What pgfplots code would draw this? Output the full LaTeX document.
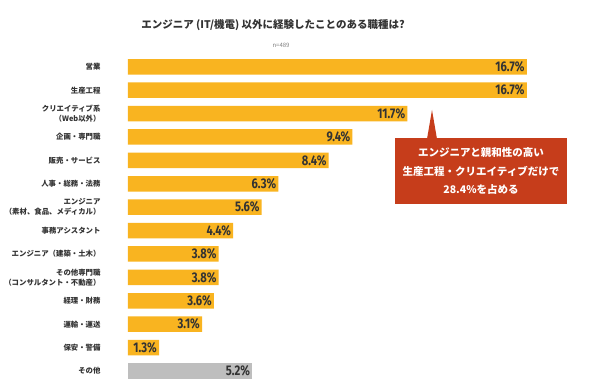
\documentclass[border=0pt]{standalone}
\usepackage{pgfplots}
\pgfplotsset{compat=1.18}
\usepackage{pgfplotstable}
\usepackage{fontspec}
\setmainfont{Noto Sans CJK JP}
\newfontfamily\numfont[FakeStretch=0.8]{Fira Sans}

\definecolor{baryellow}{HTML}{F9B420}
\definecolor{bargray}{HTML}{BEBEBE}
\definecolor{calloutred}{HTML}{C63D1B}
\definecolor{labelgray}{HTML}{333333}

% position (bottom = 0), share in percent
\pgfplotstableread{
pos val
13 16.7
12 16.7
11 11.7
10 9.4
9  8.4
8  6.3
7  5.6
6  4.4
5  3.8
4  3.8
3  3.6
2  3.1
1  1.3
}\jobs
\pgfplotstableread{
pos val
0 5.2
}\other

\begin{document}
\begin{tikzpicture}
\fill[white] (0pt,0pt) rectangle (590pt,390pt);
\path[use as bounding box] (0pt,0pt) rectangle (590pt,390pt);

\node[font=\bfseries\fontsize{10.5}{12}\selectfont, text=labelgray] at (273pt,365pt)
  {エンジニア (IT/機電) 以外に経験したことのある職種は?};
\node[font=\fontsize{6}{7}\selectfont, text=gray] at (281pt,345pt) {n=489};

\begin{axis}[
  at={(128pt,7.3pt)}, anchor=south west,
  scale only axis,
  width=400pt, height=327.6pt,
  xmin=0, xmax=16.75,
  ymin=-0.5, ymax=13.5,
  xbar, bar width=15.5pt, bar shift=0pt,
  axis line style={draw=none},
  tick style={draw=none},
  xtick=\empty,
  ytick={0,...,13},
  yticklabels={
    その他,
    保安・警備,
    運輸・運送,
    経理・財務,
    {その他専門職\\（コンサルタント・不動産）},
    エンジニア（建築・土木）,
    事務アシスタント,
    {エンジニア\\（素材、食品、メディカル）},
    人事・総務・法務,
    販売・サービス,
    企画・専門職,
    {クリエイティブ系\\（Web以外）},
    生産工程,
    営業},
  yticklabel style={anchor=east, inner sep=0pt, xshift=-23pt, align=right,
    font=\bfseries\fontsize{7.4}{10}\selectfont, text=labelgray},
  nodes near coords={\pgfmathprintnumber[fixed,precision=1,fixed zerofill,assume math mode=true]{\pgfplotspointmeta}\%},
  point meta=explicit,
  every node near coord/.append style={anchor=east, xshift=-2pt, inner sep=0pt,
    font=\numfont\bfseries\fontsize{14}{14}\selectfont, text=labelgray},
]
\addplot[fill=baryellow, draw=none] table[x=val, y=pos, meta=val] {\jobs};
\addplot[fill=bargray, draw=none] table[x=val, y=pos, meta=val] {\other};
\end{axis}

% callout box
\fill[calloutred] (427pt,251pt) -- (432pt,280pt) -- (437pt,251pt) -- cycle;
\fill[calloutred] (395pt,186pt) rectangle (567pt,252pt);
\node[text=white, align=center, font=\bfseries\fontsize{10.5}{18.5}\selectfont] at (481pt,219pt)
  {エンジニアと親和性の高い\\生産工程・クリエイティブだけで\\28.4\%を占める};
\end{tikzpicture}
\end{document}
